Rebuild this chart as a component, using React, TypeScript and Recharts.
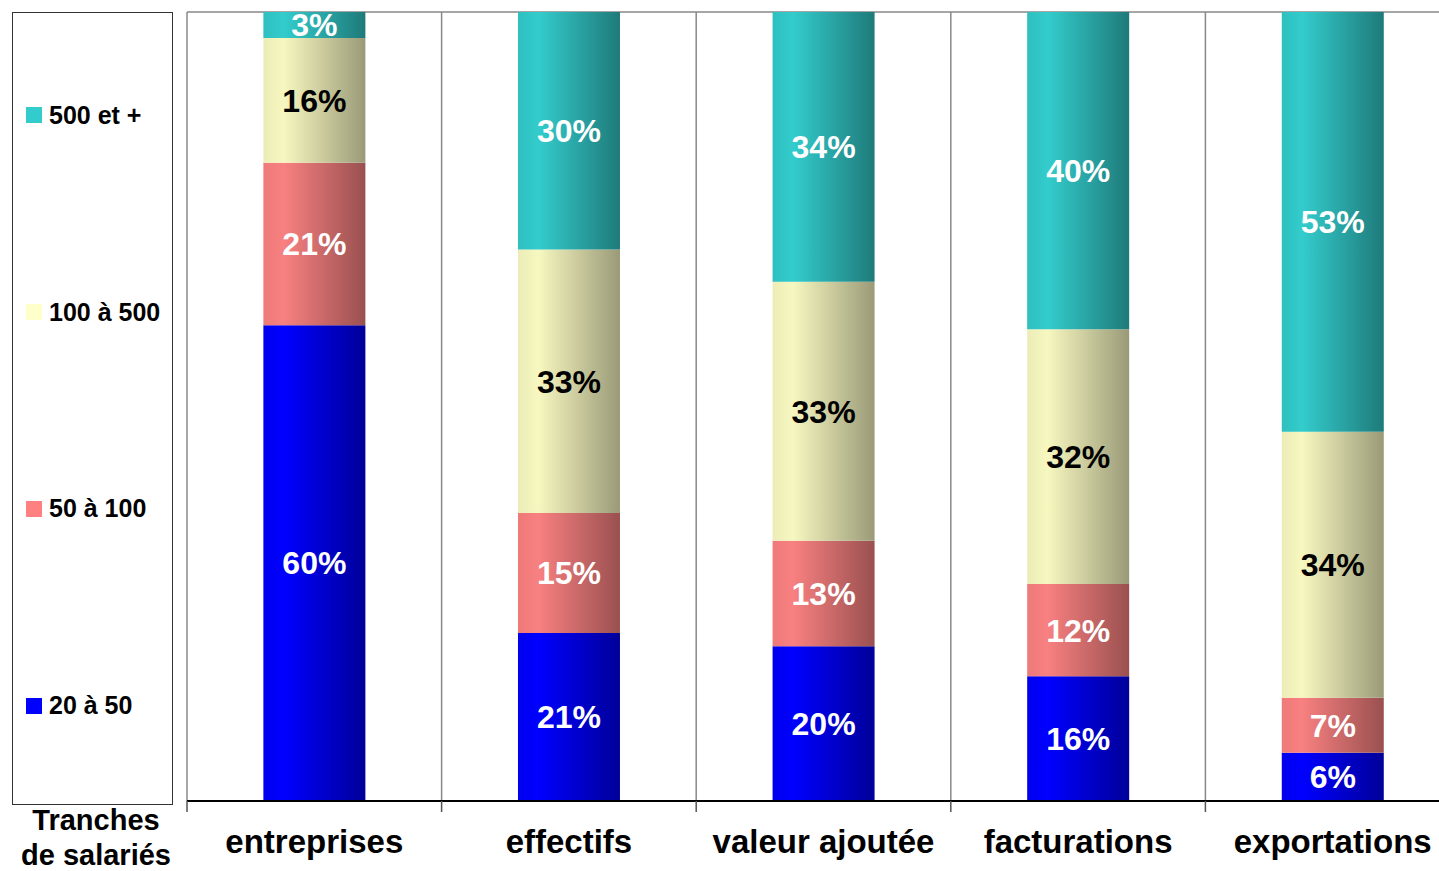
import { BarChart, Bar, XAxis, YAxis, CartesianGrid, Legend, LabelList } from "recharts";

const categories = ["entreprises", "effectifs", "valeur ajoutée", "facturations", "exportations"];
const s20a50 = [60.3, 21.3, 19.6, 15.8, 6.1];
const s50a100 = [20.6, 15.2, 13.4, 11.7, 7.0];
const s100a500 = [15.8, 33.4, 32.8, 32.3, 33.7];
const s500plus = [3.3, 30.1, 34.2, 40.2, 53.2];

const seriesNames = ["20 à 50", "50 à 100", "100 à 500", "500 et +"];

const data = categories.map((name, i) => ({
  name,
  a: s20a50[i],
  b: s50a100[i],
  c: s100a500[i],
  d: s500plus[i],
}));

const FONT = '"Liberation Sans", Arial, sans-serif';
const CHART_W = 1460;
const CHART_H = 871;
const MARGIN = { top: 12, right: 0, left: 187, bottom: 0 };
const BAND = (CHART_W - MARGIN.left - MARGIN.right) / categories.length;

const series = [
  { key: "a", name: seriesNames[0], legend: "#0000FF", stops: ["#0000EE", "#0000FF", "#000099"], label: "#fff" },
  { key: "b", name: seriesNames[1], legend: "#FF8080", stops: ["#EE7A7A", "#F88080", "#9A5050"], label: "#fff" },
  { key: "c", name: seriesNames[2], legend: "#FFFFCC", stops: ["#ECECB8", "#F7F7C0", "#9A9A78"], label: "#000" },
  { key: "d", name: seriesNames[3], legend: "#33CCCC", stops: ["#2FBFBF", "#33CCCC", "#1F7A7A"], label: "#fff" },
];

const CategoryTick = (props: any) => {
  const { x, y, payload } = props;
  const edge = x - BAND / 2;
  return (
    <g>
      <line x1={edge} y1={y} x2={edge} y2={y + 11} stroke="#555" strokeWidth={1.5} />
      <text
        x={x}
        y={y + 52}
        textAnchor="middle"
        fontFamily={FONT}
        fontWeight="bold"
        fontSize={33}
        fill="#000"
      >
        {payload.value}
      </text>
    </g>
  );
};

const LegendBox = () => {
  const items = [...series].reverse();
  return (
    <div style={{ position: "relative", width: 187, height: 871, fontFamily: FONT }}>
      <div
        style={{
          position: "absolute",
          left: 12,
          top: 12,
          width: 159,
          height: 787,
          paddingTop: 4,
          boxSizing: "content-box",
          border: "1.5px solid #333",
          display: "flex",
          flexDirection: "column",
          justifyContent: "space-around",
        }}
      >
        {items.map((s) => (
          <div key={s.key} style={{ display: "flex", alignItems: "center", paddingLeft: 13 }}>
            <div style={{ width: 16, height: 16, background: s.legend, marginRight: 7 }} />
            <span style={{ fontWeight: "bold", fontSize: 25, color: "#000", whiteSpace: "nowrap" }}>{s.name}</span>
          </div>
        ))}
      </div>
      <div
        style={{
          position: "absolute",
          left: 0,
          top: 803,
          width: 192,
          textAlign: "center",
          fontWeight: "bold",
          fontSize: 29,
          lineHeight: "35px",
          color: "#000",
        }}
      >
        Tranches
        <br />
        de salariés
      </div>
    </div>
  );
};

export default function App() {
  return (
    <div style={{ position: "absolute", left: 0, top: 0, width: 1439, height: 871, overflow: "hidden", background: "#fff" }}>
      <BarChart
        width={CHART_W}
        height={CHART_H}
        data={data}
        margin={MARGIN}
        barCategoryGap="30%"
      >
        <defs>
          {series.map((s) => (
            <linearGradient key={s.key} id={`grad-${s.key}`} x1="0" y1="0" x2="1" y2="0">
              <stop offset="0%" stopColor={s.stops[0]} />
              <stop offset="20%" stopColor={s.stops[1]} />
              <stop offset="100%" stopColor={s.stops[2]} />
            </linearGradient>
          ))}
        </defs>
        <CartesianGrid
          stroke="#888"
          strokeWidth={1.5}
          verticalCoordinatesGenerator={({ offset }: any) =>
            categories.map((_, i) => offset.left + (i * offset.width) / categories.length)
          }
          horizontalCoordinatesGenerator={({ offset }: any) => [offset.top]}
        />
        <XAxis
          dataKey="name"
          height={70}
          tickSize={0}
          tickMargin={0}
          tickLine={false}
          axisLine={{ stroke: "#000", strokeWidth: 2 }}
          tick={<CategoryTick />}
          interval={0}
        />
        <YAxis
          width={0}
          domain={[0, 100]}
          allowDataOverflow
          tick={false}
          tickLine={false}
          axisLine={{ stroke: "#000", strokeWidth: 1.5 }}
        />
        <Legend
          layout="horizontal"
          align="center"
          verticalAlign="middle"
          content={<LegendBox />}
          wrapperStyle={{ position: "absolute", left: 0, top: 0, width: 187, height: 871 }}
        />
        {series.map((s) => (
          <Bar
            key={s.key}
            dataKey={s.key}
            name={s.name}
            stackId="stack"
            fill={`url(#grad-${s.key})`}
            isAnimationActive={false}
          >
            <LabelList
              dataKey={s.key}
              position="center"
              formatter={(v: any) => `${Math.round(Number(v))}%`}
              fill={s.label}
              fontSize={32}
              fontWeight="bold"
              fontFamily={FONT}
            />
          </Bar>
        ))}
      </BarChart>
    </div>
  );
}
